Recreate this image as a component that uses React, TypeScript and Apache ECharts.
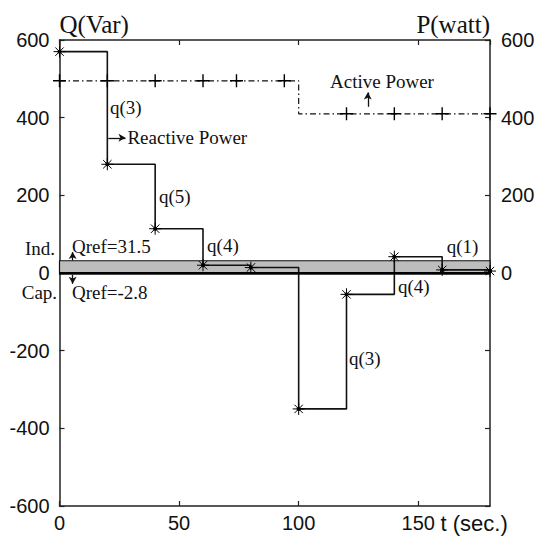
import React, { useEffect, useRef } from 'react';
import * as echarts from 'echarts';

// Reactive power Q (Var), step changes at these times (left axis)
const qTimes = [0, 20, 40, 60, 80, 100, 120, 140, 160, 180];
const qValues = [570, 280, 114, 20, 14, -350, -55, 42, 8, 5];

// Active power P (watt), right axis
const pLineTimes = [0, 100, 100, 180];
const pLineValues = [495, 495, 410, 410];
const pMarkTimes = [0, 20, 40, 60, 74, 94, 120, 140, 160, 180];
const pMarkValues = [495, 495, 495, 495, 495, 495, 410, 410, 410, 410];

// Reference band
const qRefHigh = 31.5;
const qRefLow = -2.8;

// Axis ranges
const xMin = 0, xMax = 180, xStep = 50;
const yMin = -600, yMax = 600, yStep = 200;

// Annotations (text, time, Q value)
const noteTexts = ['q(3)', 'Reactive Power', 'q(5)', 'q(4)', 'Qref=31.5', 'Qref=-2.8', 'Active Power', 'q(1)', 'q(4)', 'q(3)'];
const noteT = [21.1, 28.4, 41.6, 61.7, 5.2, 5.2, 113.1, 161.9, 141.5, 121];
const noteV = [425, 348, 196, 72, 67, -51.5, 492, 67, -35, -219];

// Arrows: start (t, v) -> end (t, v)
const arrowT0 = [20.4, 5.5, 5.5, 128.9];
const arrowV0 = [348, 32, -4, 428];
const arrowT1 = [27.6, 5.5, 5.5, 128.9];
const arrowV1 = [348, 54, -28, 465];

const sideTexts = ['Ind.', 'Cap.'];
const sideT = [-1.9, -1.0];
const sideV = [64, -51.5];

const xTitle = 't (sec.)';
const xTitleT = 159.3;
const xTitleV = -646;

const SERIF = '"Liberation Serif", "Times New Roman", serif';
const SANS = '"Liberation Sans", Arial, sans-serif';
const STAR = 'path://M0,-6L0,6M-6,0L6,0M-4.2,-4.2L4.2,4.2M-4.2,4.2L4.2,-4.2M-1.6,0A1.6,1.6 0 1 0 1.6,0A1.6,1.6 0 1 0 -1.6,0Z';
const PLUS = 'path://M0,-6L0,6M-6,0L6,0';

export default function App() {
  const ref = useRef<HTMLDivElement>(null);
  useEffect(() => {
    if (!ref.current) return;
    const chart = echarts.init(ref.current, undefined, { renderer: 'svg' });
    const axisLine = { onZero: false, lineStyle: { color: '#222', width: 1.5 } };
    const tick = { inside: true, length: 5, lineStyle: { color: '#222', width: 1.2 } };
    const labelStyle = { fontFamily: SANS, fontSize: 20, color: '#111' };
    const noteData = noteTexts.map((s, i) => ({ name: s, value: [noteT[i], noteV[i]] }));
    const sideData = sideTexts.map((s, i) => ({ name: s, value: [sideT[i], sideV[i]] }));
    const arrowData = arrowT0.map((t, i) => [
      { coord: [t, arrowV0[i]] },
      { coord: [arrowT1[i], arrowV1[i]] },
    ]);
    const hidden = { color: 'rgba(0,0,0,0)', opacity: 1 };
    chart.setOption({
      animation: false,
      backgroundColor: '#fff',
      grid: { left: 59.5, right: 49, top: 40, bottom: 31 },
      xAxis: [
        {
          type: 'value', min: xMin, max: xMax, interval: xStep, position: 'bottom',
          axisLine, axisTick: tick, splitLine: { show: false },
          axisLabel: { ...labelStyle, margin: 7, showMaxLabel: false },
        },
        {
          type: 'value', min: xMin, max: xMax, interval: xStep, position: 'top',
          axisLine, axisTick: tick, splitLine: { show: false }, axisLabel: { show: false },
        },
      ],
      yAxis: [
        {
          type: 'value', min: yMin, max: yMax, interval: yStep, position: 'left',
          name: 'Q(Var)', nameLocation: 'end', nameGap: 3,
          nameTextStyle: { fontFamily: SERIF, fontSize: 25, color: '#111', align: 'left', verticalAlign: 'bottom' },
          axisLine, axisTick: tick, splitLine: { show: false },
          axisLabel: { ...labelStyle, margin: 10 },
        },
        {
          type: 'value', min: yMin, max: yMax, interval: yStep, position: 'right',
          name: 'P(watt)', nameLocation: 'end', nameGap: 3,
          nameTextStyle: { fontFamily: SERIF, fontSize: 25, color: '#111', align: 'right', verticalAlign: 'bottom' },
          axisLine, axisTick: tick, splitLine: { show: false },
          axisLabel: { ...labelStyle, margin: 11, formatter: (v: number) => (v >= 0 ? String(v) : '') },
        },
      ],
      series: [
        {
          type: 'line', xAxisIndex: 0, yAxisIndex: 0, step: 'end',
          data: qTimes.map((t, i) => [t, qValues[i]]),
          symbol: STAR, symbolSize: 12, showAllSymbol: true,
          itemStyle: { color: '#000', borderColor: '#000', borderWidth: 1 },
          lineStyle: { color: '#111', width: 1.6 },
          z: 3,
          markArea: {
            silent: true,
            itemStyle: { color: '#bdbdbd', borderColor: '#111', borderWidth: 1.2 },
            data: [[{ yAxis: qRefHigh }, { yAxis: qRefLow }]],
          },
          markLine: {
            silent: true, symbol: 'none', label: { show: false },
            lineStyle: { color: '#000', width: 2.2, type: 'solid' },
            data: [{ yAxis: 0 }],
          },
        },
        {
          type: 'line', xAxisIndex: 0, yAxisIndex: 1,
          data: pLineTimes.map((t, i) => [t, pLineValues[i]]),
          symbol: 'none',
          lineStyle: { color: '#111', width: 1.2, type: [6, 3, 1.5, 3] },
          z: 3,
          markLine: {
            silent: true, symbol: ['none', 'arrow'], symbolSize: [6, 7], label: { show: false },
            lineStyle: { color: '#111', width: 1.3, type: 'solid' },
            data: arrowData,
          },
        },
        {
          type: 'scatter', xAxisIndex: 0, yAxisIndex: 1, clip: false,
          data: pMarkTimes.map((t, i) => [t, pMarkValues[i]]),
          symbol: PLUS, symbolSize: 13,
          itemStyle: { color: 'none', borderColor: '#000', borderWidth: 1.4, opacity: 1 },
          z: 4,
        },
        {
          type: 'scatter', xAxisIndex: 0, yAxisIndex: 0, clip: false, silent: true,
          data: noteData, symbolSize: 1, itemStyle: hidden,
          label: {
            show: true, formatter: '{b}', position: 'inside', align: 'left', verticalAlign: 'middle',
            fontFamily: SERIF, fontSize: 19, color: '#111',
          },
          z: 6,
        },
        {
          type: 'scatter', xAxisIndex: 0, yAxisIndex: 0, clip: false, silent: true,
          data: sideData, symbolSize: 1, itemStyle: hidden,
          label: {
            show: true, formatter: '{b}', position: 'inside', align: 'right', verticalAlign: 'middle',
            fontFamily: SERIF, fontSize: 19, color: '#111',
          },
          z: 6,
        },
        {
          type: 'scatter', xAxisIndex: 0, yAxisIndex: 0, clip: false, silent: true,
          data: [{ name: xTitle, value: [xTitleT, xTitleV] }], symbolSize: 1, itemStyle: hidden,
          label: {
            show: true, formatter: '{b}', position: 'inside', align: 'left', verticalAlign: 'middle',
            fontFamily: SANS, fontSize: 22, color: '#111',
          },
          z: 6,
        },
      ],
    });
    return () => chart.dispose();
  }, []);
  return <div ref={ref} style={{ position: 'absolute', left: 0, top: 0, width: 539, height: 537 }} />;
}
